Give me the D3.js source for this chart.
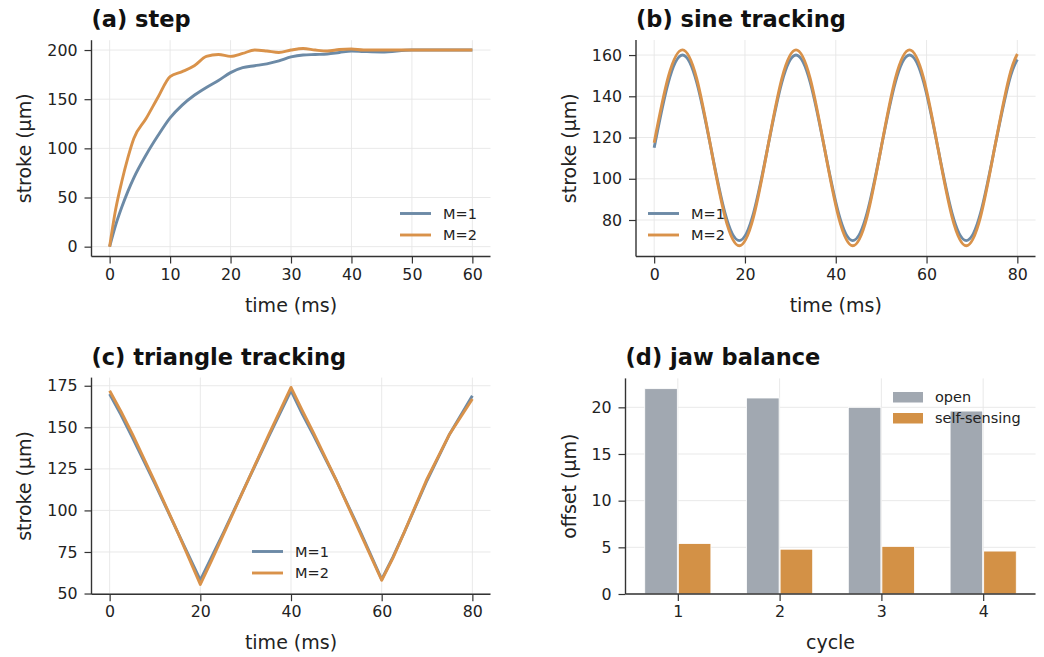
<!DOCTYPE html>
<html>
<head>
<meta charset="utf-8">
<script src="https://cdn.jsdelivr.net/npm/d3@7"></script>
<style>
  html, body { margin: 0; padding: 0; background: #fff; }
  svg { display: block; font-family: "DejaVu Sans", sans-serif; }
</style>
</head>
<body>
<svg id="fig" width="1044" height="657"></svg>
<script>
// ── Data ──────────────────────────────────────────────────────

// (a) step response
const STEP_T  = [0, 1, 2, 3, 4, 6, 8, 10, 12, 14, 16, 18, 20, 22, 24, 26, 28, 30, 32, 34, 36, 38, 40, 42, 45, 50, 55, 60];
const STEP_M1 = [0, 22, 40, 56, 70, 93, 113, 131, 144, 154, 162, 169, 177, 182, 184, 186, 189, 193, 195, 195.5, 196, 197.5, 199, 198.5, 198, 200, 200, 200];
const STEP_M2 = [0, 38, 66, 90, 110, 130, 152, 173, 178, 184, 193.5, 195.5, 193.5, 196.5, 200, 199, 197.5, 200, 201.5, 200, 199, 200.5, 201, 200, 200, 200, 200, 200];

// (b) sine tracking
const SINE_T  = [0, 3.125, 6.25, 9.375, 12.5, 15.625, 18.75, 21.875, 25, 28.125, 31.25, 34.375, 37.5, 40.625,
                 43.75, 46.875, 50, 53.125, 56.25, 59.375, 62.5, 65.625, 68.75, 71.875, 75, 78.125, 80];
const SINE_M1 = [115, 146.8, 160, 146.8, 115, 83.2, 70, 83.2, 115, 146.8, 160, 146.8, 115, 83.2,
                 70, 83.2, 115, 146.8, 160, 146.8, 115, 83.2, 70, 83.2, 115, 146.8, 157.8];
const SINE_M2 = [117.5, 149.5, 162.5, 148.6, 115, 81.4, 67.5, 81.4, 115, 148.6, 162.5, 148.6, 115, 81.4,
                 67.5, 81.4, 115, 148.6, 162.5, 148.6, 115, 81.4, 67.5, 81.4, 115, 148.6, 160.5];

// (c) triangle tracking
const TRI_T  = [0, 2.5, 5, 10, 15, 20, 22.5, 25, 30, 35, 40, 42.5, 45, 50, 55, 60, 62.5, 65, 70, 75, 80];
const TRI_M1 = [170, 157.5, 144, 116, 87, 58, 72, 86, 115, 144, 172, 158, 145, 118, 89, 58.5, 72, 87, 118, 146, 169];
const TRI_M2 = [172, 159.5, 146, 117, 87, 55.5, 70, 85, 115, 145, 174, 160, 146.5, 118, 88, 58, 71.5, 87, 119, 146, 167];

// (d) jaw balance
const CYCLES = [1, 2, 3, 4];
const OPEN   = [22, 21, 20, 19.6];
const SELF   = [5.4, 4.8, 5.1, 4.6];

// ticks
const TICKS_A_X = [0, 10, 20, 30, 40, 50, 60];
const TICKS_A_Y = [0, 50, 100, 150, 200];
const TICKS_B_X = [0, 20, 40, 60, 80];
const TICKS_B_Y = [80, 100, 120, 140, 160];
const TICKS_C_X = [0, 20, 40, 60, 80];
const TICKS_C_Y = [50, 75, 100, 125, 150, 175];
const TICKS_D_Y = [0, 5, 10, 15, 20];

const C_M1   = "#6c8aa6";
const C_M2   = "#d9924a";
const C_OPEN = "#a1a8b1";
const C_SELF = "#d39146";
const SPINE  = "#333";

const FS_TICK = 15.8, FS_LABEL = 19, FS_TITLE = 22.5, FS_LEG = 14.5;

const svg = d3.select("#fig");

// ── Helpers ───────────────────────────────────────────────────

function panel(box, xDom, yDom, xTicks, yTicks, opts) {
  const x = d3.scaleLinear().domain(xDom).range([box.l, box.r]);
  const y = d3.scaleLinear().domain(yDom).range([box.b, box.t]);
  const g = svg.append("g");

  // grid
  g.append("g").selectAll("line").data(xTicks).join("line")
    .attr("x1", (d) => x(d)).attr("x2", (d) => x(d))
    .attr("y1", box.t).attr("y2", box.b)
    .attr("stroke", "#e6e6e6").attr("stroke-width", 0.9);
  g.append("g").selectAll("line").data(yTicks).join("line")
    .attr("y1", (d) => y(d)).attr("y2", (d) => y(d))
    .attr("x1", box.l).attr("x2", box.r)
    .attr("stroke", "#e6e6e6").attr("stroke-width", 0.9);

  const marks = g.append("g");

  // axes
  const xa = g.append("g").attr("transform", `translate(0,${box.b})`)
    .call(d3.axisBottom(x).tickValues(xTicks).tickSize(7).tickPadding(5).tickFormat(d3.format("d")));
  const ya = g.append("g").attr("transform", `translate(${box.l},0)`)
    .call(d3.axisLeft(y).tickValues(yTicks).tickSize(7).tickPadding(7).tickFormat(d3.format("d")));
  for (const a of [xa, ya]) {
    a.select(".domain").attr("stroke", SPINE).attr("stroke-width", 1.4);
    a.selectAll(".tick line").attr("stroke", SPINE).attr("stroke-width", 1.2);
    a.selectAll(".tick text").attr("fill", "#222").attr("font-size", FS_TICK).attr("font-family", "DejaVu Sans");
  }
  // matplotlib-like spines: no end caps
  xa.select(".domain").attr("d", `M${box.l},0H${box.r}`);
  ya.select(".domain").attr("d", `M0,${box.b}V${box.t}`);

  // labels
  g.append("text").attr("x", (box.l + box.r) / 2).attr("y", box.b + 48.5).attr("dy", "0.35em")
    .attr("text-anchor", "middle").attr("font-size", FS_LABEL).attr("fill", "#222").text(opts.xLabel);
  g.append("text")
    .attr("transform", `translate(${opts.yLabelX},${(box.t + box.b) / 2}) rotate(-90)`)
    .attr("text-anchor", "middle").attr("font-size", FS_LABEL).attr("fill", "#222").text(opts.yLabel);
  g.append("text").attr("x", box.l).attr("y", box.t - 13)
    .attr("font-size", FS_TITLE).attr("font-weight", "bold").attr("fill", "#111").text(opts.title);

  return { x, y, g: marks, top: g };
}

function drawLines(p, xs, series) {
  for (const s of series) {
    const line = d3.line()
      .x((d, i) => p.x(xs[i]))
      .y((d) => p.y(d))
      .curve(s.curve);
    p.g.append("path").datum(s.values)
      .attr("d", line)
      .attr("fill", "none")
      .attr("stroke", s.color)
      .attr("stroke-width", 2.9)
      .attr("stroke-linejoin", "round");
  }
}

function lineLegend(p, x0, y0, items) {
  items.forEach((it, i) => {
    const yy = y0 + i * 21.5;
    p.top.append("line").attr("x1", x0).attr("x2", x0 + 31).attr("y1", yy).attr("y2", yy)
      .attr("stroke", it.color).attr("stroke-width", 2.9);
    p.top.append("text").attr("x", x0 + 43).attr("y", yy).attr("dy", "0.35em")
      .attr("font-size", FS_LEG).attr("fill", "#222").text(it.label);
  });
}

// ── (a) step ──────────────────────────────────────────────────
const pa = panel({ l: 91.5, r: 490.5, t: 40.2, b: 256.5 }, [-3, 63], [-10, 210],
  TICKS_A_X, TICKS_A_Y, { title: "(a) step", xLabel: "time (ms)", yLabel: "stroke (µm)", yLabelX: 31 });
drawLines(pa, STEP_T, [
  { values: STEP_M1, color: C_M1, curve: d3.curveMonotoneX },
  { values: STEP_M2, color: C_M2, curve: d3.curveMonotoneX },
]);
lineLegend(pa, 400, 213.5, [{ label: "M=1", color: C_M1 }, { label: "M=2", color: C_M2 }]);

// ── (b) sine tracking ─────────────────────────────────────────
const pb = panel({ l: 636, r: 1035.5, t: 40, b: 256.5 }, [-4, 84], [62.3, 167.3],
  TICKS_B_X, TICKS_B_Y, { title: "(b) sine tracking", xLabel: "time (ms)", yLabel: "stroke (µm)", yLabelX: 576 });
drawLines(pb, SINE_T, [
  { values: SINE_M1, color: C_M1, curve: d3.curveNatural },
  { values: SINE_M2, color: C_M2, curve: d3.curveNatural },
]);
lineLegend(pb, 648, 213.5, [{ label: "M=1", color: C_M1 }, { label: "M=2", color: C_M2 }]);

// ── (c) triangle tracking ─────────────────────────────────────
const pc = panel({ l: 91.5, r: 490.5, t: 377.6, b: 594.2 }, [-4, 84], [49.6, 179.9],
  TICKS_C_X, TICKS_C_Y, { title: "(c) triangle tracking", xLabel: "time (ms)", yLabel: "stroke (µm)", yLabelX: 31 });
drawLines(pc, TRI_T, [
  { values: TRI_M1, color: C_M1, curve: d3.curveLinear },
  { values: TRI_M2, color: C_M2, curve: d3.curveLinear },
]);
lineLegend(pc, 252, 551.5, [{ label: "M=1", color: C_M1 }, { label: "M=2", color: C_M2 }]);

// ── (d) jaw balance ───────────────────────────────────────────
const pd = panel({ l: 625.5, r: 1035.5, t: 378.4, b: 594 }, [0.486, 4.514], [0, 23.1],
  CYCLES, TICKS_D_Y, { title: "(d) jaw balance", xLabel: "cycle", yLabel: "offset (µm)", yLabelX: 576 });
const BW = 0.32, OFF = 0.165;
pd.g.selectAll("rect.open").data(CYCLES).join("rect").attr("class", "open")
  .attr("x", (d) => pd.x(d - OFF - BW / 2))
  .attr("width", (d) => pd.x(d - OFF + BW / 2) - pd.x(d - OFF - BW / 2))
  .attr("y", (d, i) => pd.y(OPEN[i]))
  .attr("height", (d, i) => pd.y(0) - pd.y(OPEN[i]))
  .attr("fill", C_OPEN).attr("stroke", "#fff").attr("stroke-width", 0.8);
pd.g.selectAll("rect.self").data(CYCLES).join("rect").attr("class", "self")
  .attr("x", (d) => pd.x(d + OFF - BW / 2))
  .attr("width", (d) => pd.x(d + OFF + BW / 2) - pd.x(d + OFF - BW / 2))
  .attr("y", (d, i) => pd.y(SELF[i]))
  .attr("height", (d, i) => pd.y(0) - pd.y(SELF[i]))
  .attr("fill", C_SELF).attr("stroke", "#fff").attr("stroke-width", 0.8);

[{ label: "open", color: C_OPEN }, { label: "self-sensing", color: C_SELF }].forEach((it, i) => {
  const yy = 397 + i * 21;
  pd.top.append("rect").attr("x", 893).attr("y", yy - 5).attr("width", 30).attr("height", 10.5)
    .attr("fill", it.color);
  pd.top.append("text").attr("x", 935).attr("y", yy).attr("dy", "0.35em")
    .attr("font-size", FS_LEG).attr("fill", "#222").text(it.label);
});
</script>
</body>
</html>
